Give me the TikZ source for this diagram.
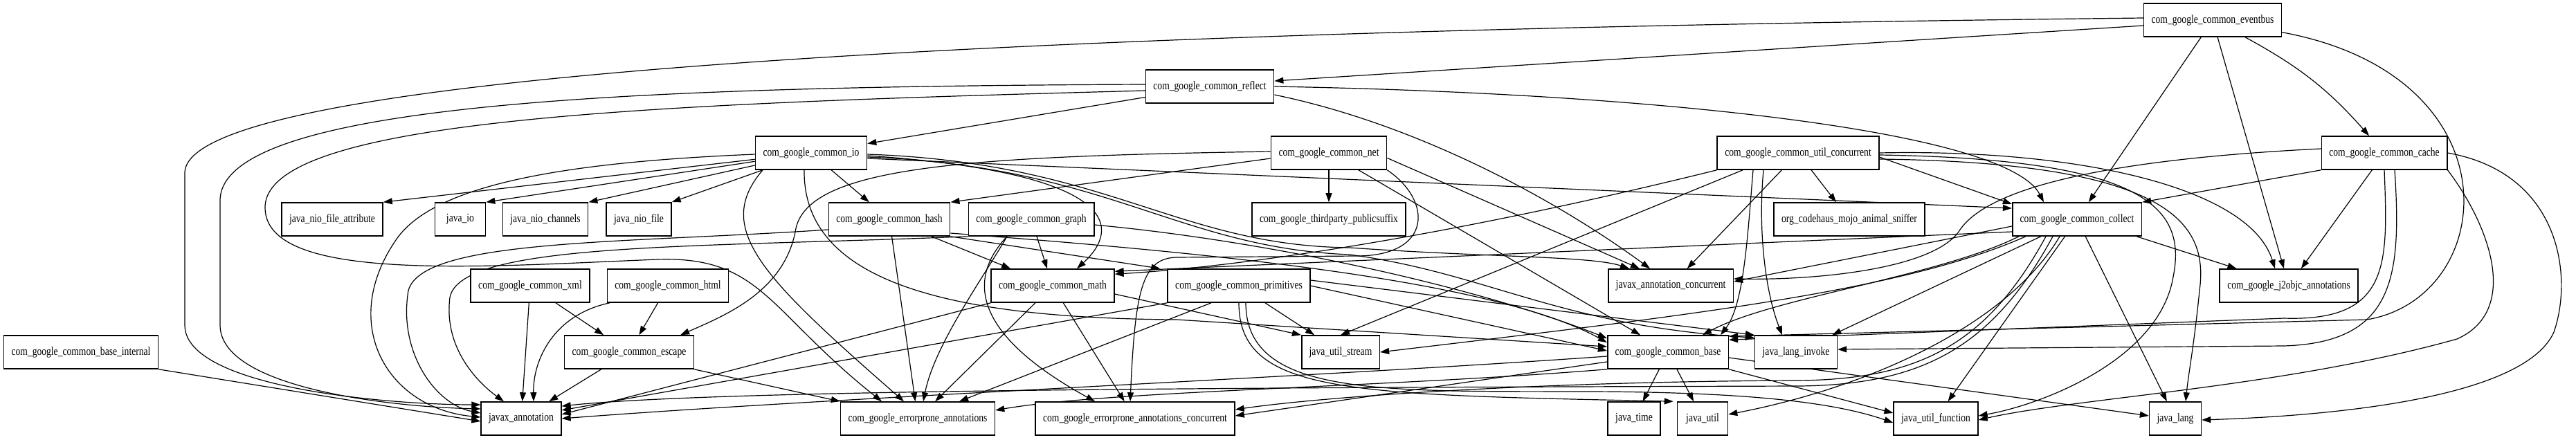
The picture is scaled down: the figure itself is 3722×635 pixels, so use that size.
\documentclass[tikz,border=0pt]{standalone}
\usepackage{fontspec}
\newfontfamily\gvfont[FakeStretch=0.8]{Liberation Serif}
\usetikzlibrary{arrows.meta, backgrounds}

\begin{document}
\begin{tikzpicture}[
    x=1pt, y=1pt,
    pkg/.style={rectangle, draw, line width=1.6pt, fill=white,
                minimum height=48pt, minimum width=73pt, inner xsep=11pt,
                font=\gvfont\fontsize{17}{20}\selectfont},
    dep/.style={-{Triangle[length=13pt, width=9pt]}, line width=1.2pt}
  ]
  \useasboundingbox (0,0) rectangle (3722,-635);

  \node[pkg] (eventbus) at (3197,-29) {com\_google\_common\_eventbus};
  \node[pkg] (reflect) at (1748,-125) {com\_google\_common\_reflect};
  \node[pkg] (io) at (1172,-221) {com\_google\_common\_io};
  \node[pkg] (net) at (1920,-221) {com\_google\_common\_net};
  \node[pkg] (utilconc) at (2598,-221) {com\_google\_common\_util\_concurrent};
  \node[pkg] (cache) at (3445,-221) {com\_google\_common\_cache};
  \node[pkg] (nioattr) at (480,-317) {java\_nio\_file\_attribute};
  \node[pkg] (javaio) at (665,-317) {java\_io};
  \node[pkg] (niochan) at (788,-317) {java\_nio\_channels};
  \node[pkg] (niofile) at (923,-317) {java\_nio\_file};
  \node[pkg] (hash) at (1285,-317) {com\_google\_common\_hash};
  \node[pkg] (graph) at (1490,-317) {com\_google\_common\_graph};
  \node[pkg] (suffix) at (1920,-317) {com\_google\_thirdparty\_publicsuffix};
  \node[pkg] (sniffer) at (2672,-317) {org\_codehaus\_mojo\_animal\_sniffer};
  \node[pkg] (collect) at (3001,-317) {com\_google\_common\_collect};
  \node[pkg] (xml) at (766,-413) {com\_google\_common\_xml};
  \node[pkg] (html) at (965,-413) {com\_google\_common\_html};
  \node[pkg] (math) at (1521,-413) {com\_google\_common\_math};
  \node[pkg] (prims) at (1790,-413) {com\_google\_common\_primitives};
  \node[pkg] (jsrconc) at (2414,-413) {javax\_annotation\_concurrent};
  \node[pkg] (jtwoobjc) at (3307,-413) {com\_google\_j2objc\_annotations};
  \node[pkg] (baseint) at (117,-509) {com\_google\_common\_base\_internal};
  \node[pkg] (escape) at (909,-509) {com\_google\_common\_escape};
  \node[pkg] (jstream) at (1937,-509) {java\_util\_stream};
  \node[pkg] (base) at (2410,-509) {com\_google\_common\_base};
  \node[pkg] (jinvoke) at (2595,-509) {java\_lang\_invoke};
  \node[pkg] (jsr) at (753,-605) {javax\_annotation};
  \node[pkg] (eprone) at (1326,-605) {com\_google\_errorprone\_annotations};
  \node[pkg] (epconc) at (1640,-605) {com\_google\_errorprone\_annotations\_concurrent};
  \node[pkg] (jtime) at (2361,-605) {java\_time};
  \node[pkg] (jutil) at (2460,-605) {java\_util};
  \node[pkg] (jfunc) at (2797,-605) {java\_util\_function};
  \node[pkg] (jlang) at (3143,-605) {java\_lang};

  \begin{scope}[on background layer]
    \foreach \a/\b in {reflect/io, io/hash, net/suffix, utilconc/sniffer, utilconc/jsrconc,
                       hash/math, graph/math, hash/eprone, math/eprone, math/epconc,
                       xml/escape, xml/jsr, html/escape, escape/jsr, prims/jstream,
                       base/jtime, base/jutil, cache/jtwoobjc, eventbus/collect,
                       eventbus/jtwoobjc, collect/jinvoke, collect/jfunc, collect/jlang}
      \draw[dep] (\a) -- (\b);
    \foreach \b in {nioattr, javaio, niochan, niofile}
      \draw[dep] (io) -- (\b.north east);

    \draw[dep] ([yshift=3]eventbus.west) .. controls (1400,-45) and (267,-110) .. (267,-250)
      -- (267,-470) .. controls (267,-560) and (560,-585) .. ([yshift=20]jsr.west);
    \draw[dep] ([yshift=-8]eventbus.west) -- ([yshift=8]reflect.east);
    \draw[dep] ([xshift=47]eventbus.south) to[bend left=10] ([xshift=-22]cache.north);
    \draw[dep] (eventbus.-10) .. controls (3640,-110) and (3610,-430) .. (3420,-462)
      -- ([yshift=-2]base.north east);

    \draw[dep] ([yshift=3]reflect.west) .. controls (900,-125) and (318,-150) .. (318,-290)
      -- (318,-470) .. controls (318,-560) and (560,-588) .. ([yshift=14]jsr.west);
    \draw[dep] ([yshift=-6]reflect.west) .. controls (950,-150) and (383,-170) .. (383,-300)
      .. controls (383,-410) and (700,-385) .. (950,-375)
      .. controls (1100,-370) and (1110,-450) .. ([xshift=-52]eprone.north);
    \draw[dep] (reflect.east) .. controls (2400,-135) and (2900,-190) .. ([xshift=-48]collect.north);
    \draw[dep] ([yshift=-12]reflect.east) .. controls (2050,-180) and (2250,-290) .. ([xshift=-30]jsrconc.north);

    \draw[dep] ([yshift=-2]io.west) .. controls (800,-235) and (620,-270) .. (570,-350)
      .. controls (490,-470) and (560,-590) .. ([yshift=2]jsr.west);
    \draw[dep] ([xshift=-70]io.south) .. controls (1030,-330) and (1100,-400) .. ([xshift=-20]eprone.north);
    \draw[dep] ([yshift=-4]io.east) .. controls (1620,-250) and (1620,-330) .. ([xshift=35]math.north);
    \draw[dep] ([yshift=-8]io.east) -- ([yshift=16]collect.west);
    \draw[dep] ([xshift=-10]io.south) .. controls (1160,-400) and (1350,-460) .. (1700,-462)
      -- ([yshift=8]base.west);
    \draw[dep] ([yshift=-2]io.east) .. controls (1600,-235) and (1700,-355) .. (1950,-358)
      .. controls (2150,-372) and (2300,-370) .. ([xshift=-60]jsrconc.north);
    \draw[dep] ([yshift=-6]io.east) .. controls (1600,-240) and (1700,-358) .. (1950,-368)
      .. controls (2150,-395) and (2250,-470) .. ([yshift=-4]jinvoke.north west);

    \draw[dep] ([yshift=-8]net.west) -- (hash.north east);
    \draw[dep] ([yshift=2]net.west) .. controls (1400,-226) and (1170,-240) .. (1150,-330)
      .. controls (1135,-420) and (1050,-455) .. ([xshift=-20]escape.north east);
    \draw[dep] (net.south east) .. controls (2070,-290) and (2070,-370) .. (1960,-370)
      -- (1700,-372) .. controls (1650,-373) and (1640,-420) .. ([xshift=-7]epconc.north);
    \draw[dep] (net.-5) -- ([xshift=-45]jsrconc.north);
    \draw[dep] (net.-30) -- ([xshift=-40]base.north);

    \draw[dep] ([yshift=-6]utilconc.east) -- ([yshift=22]collect.west);
    \draw[dep] (utilconc.south west) .. controls (2100,-340) and (1800,-385) .. ([yshift=-8]math.north east);
    \draw[dep] ([xshift=-80]utilconc.south) -- (jstream.north);
    \draw[dep] ([xshift=-50]utilconc.south) .. controls (2540,-330) and (2550,-420) .. ([xshift=-20]jinvoke.north);
    \draw[dep] ([xshift=-65]utilconc.south) .. controls (2525,-340) and (2520,-440) .. ([xshift=-12]base.north east);
    \draw[dep] (utilconc.east) .. controls (3000,-215) and (3250,-270) .. ([xshift=-20]jtwoobjc.north);
    \draw[dep] ([yshift=-3]utilconc.east) .. controls (3100,-230) and (3160,-300) .. (3140,-400)
      .. controls (3120,-520) and (2950,-585) .. ([yshift=4]jfunc.east);
    \draw[dep] ([yshift=-9]utilconc.east) .. controls (3150,-235) and (3190,-330) .. (3178,-420)
      .. controls (3170,-500) and (3162,-540) .. ([xshift=15]jlang.north);

    \draw[dep] (cache.south west) -- (collect.north east);
    \draw[dep] ([yshift=6]cache.west) .. controls (3050,-230) and (2870,-270) .. (2830,-335)
      .. controls (2790,-390) and (2620,-405) .. ([yshift=10]jsrconc.east);
    \draw[dep] (cache.south) .. controls (3450,-380) and (3455,-465) .. (3300,-460)
      -- ([yshift=-7]base.north east);
    \draw[dep] ([xshift=15]cache.south) .. controls (3470,-400) and (3460,-495) .. (3300,-500)
      -- ([yshift=4]jinvoke.east);
    \draw[dep] (cache.south east) .. controls (3600,-330) and (3640,-450) .. (3550,-490)
      .. controls (3300,-560) and (3000,-575) .. ([yshift=-2]jfunc.east);
    \draw[dep] (cache.east) .. controls (3700,-250) and (3718,-400) .. (3690,-480)
      .. controls (3650,-570) and (3400,-600) .. ([yshift=-2]jlang.east);

    \draw[dep] ([xshift=-8]collect.south east) -- ([xshift=25]jtwoobjc.north west);
    \draw[dep] ([yshift=-10]collect.west) -- ([yshift=6]jsrconc.east);
    \draw[dep] ([yshift=-18]collect.west) -- ([yshift=-4]math.north east);
    \draw[dep] ([xshift=20]collect.south west) .. controls (2750,-420) and (2450,-455) .. (jstream.east);
    \draw[dep] ([xshift=10]collect.south west) .. controls (2800,-400) and (2560,-430) .. ([xshift=50]base.north);
    \draw[dep] ([xshift=-25]collect.south) .. controls (2900,-470) and (2700,-560) .. ([yshift=6]jutil.east);
    \draw[dep] ([xshift=-35]collect.south) .. controls (2880,-500) and (2780,-556) .. (2600,-558)
      .. controls (1900,-560) and (1050,-562) .. ([yshift=18]jsr.east);
    \draw[dep] ([xshift=-45]collect.south) .. controls (2870,-500) and (2770,-550) .. (2590,-550)
      .. controls (2200,-552) and (1900,-575) .. ([yshift=13]epconc.east);

    \draw[dep] (hash.south east) -- ([xshift=-10]prims.north west);
    \draw[dep] ([yshift=-20]hash.east) .. controls (1700,-362) and (2150,-400) .. ([yshift=14]base.west);
    \draw[dep] ([yshift=-15]hash.west) .. controls (900,-352) and (610,-345) .. (590,-420)
      .. controls (575,-510) and (630,-585) .. ([yshift=8]jsr.west);
    \draw[dep] (graph.south west) .. controls (1000,-358) and (665,-350) .. (650,-430)
      .. controls (640,-510) and (700,-560) .. ([xshift=-25]jsr.north);
    \draw[dep] ([xshift=-35]graph.south) .. controls (1415,-410) and (1350,-500) .. ([xshift=8]eprone.north);
    \draw[dep] ([xshift=-35]graph.south) .. controls (1400,-400) and (1400,-480) .. ([xshift=-58]epconc.north);
    \draw[dep] ([yshift=-8]graph.east) .. controls (1850,-350) and (2150,-420) .. ([yshift=20]base.west);

    \draw[dep] ([xshift=-84]html.south) .. controls (800,-455) and (770,-520) .. ([xshift=18]jsr.north);
    \draw[dep] (escape.south east) -- (eprone.north west);
    \draw[dep] (baseint.south east) -- ([yshift=-4]jsr.west);

    \draw[dep] (math.south west) -- ([yshift=6]jsr.east);
    \draw[dep] ([yshift=-12]math.east) -- (jstream.north west);

    \draw[dep] (prims.south west) -- ([yshift=12]jsr.east);
    \draw[dep] ([xshift=-40]prims.south) -- ([xshift=60]eprone.north);
    \draw[dep] (prims.east) -- ([yshift=2]base.west);
    \draw[dep] ([yshift=8]prims.east) -- (jinvoke.north west);
    \draw[dep] (prims.south) .. controls (1790,-570) and (1950,-570) .. ([xshift=-5]jutil.north west);
    \draw[dep] ([xshift=10]prims.south) .. controls (1800,-575) and (2000,-565) .. (2300,-566)
      .. controls (2550,-567) and (2660,-585) .. ([yshift=-6]jfunc.west);

    \draw[dep] ([yshift=-6]base.west) .. controls (1900,-545) and (1200,-575) .. (jsr.east);
    \draw[dep] (base.south west) .. controls (2000,-560) and (1600,-565) .. ([yshift=12]eprone.east);
    \draw[dep] ([yshift=-14]base.west) -- ([yshift=4]epconc.east);
    \draw[dep] (base.south east) -- ([yshift=8]jfunc.west);
    \draw[dep] ([yshift=-8]base.east) -- ([yshift=4]jlang.west);
  \end{scope}
\end{tikzpicture}
\end{document}
